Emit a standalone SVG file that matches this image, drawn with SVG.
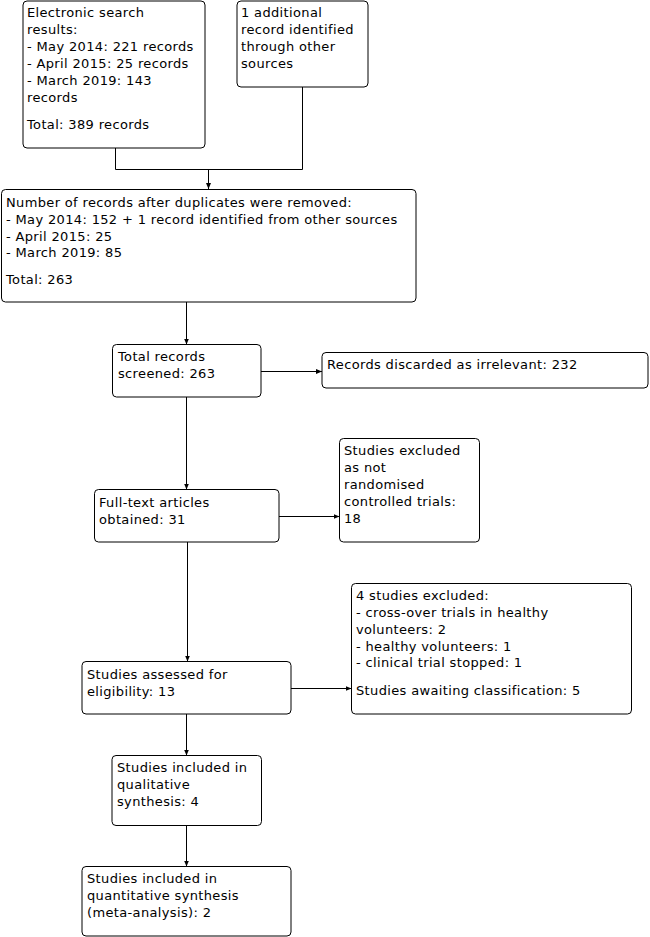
<svg xmlns="http://www.w3.org/2000/svg" width="650" height="937" viewBox="0 0 650 937">
<defs>
<style>
.box{fill:#fff;stroke:#000;stroke-width:1}
text{font-family:"DejaVu Sans",sans-serif;font-size:13px;letter-spacing:0.35px;fill:#000}
.c{fill:none;stroke:#000;stroke-width:1}
</style>
<marker id="ah" markerUnits="userSpaceOnUse" markerWidth="7" markerHeight="6" refX="6" refY="3" orient="auto">
<path d="M0,0.5 L6,3 L0,5.5 z" fill="#000"/>
</marker>
</defs>
<rect width="650" height="937" fill="#fff"/>
<g id="connectors">
<path class="c" d="M115.5,148 V169.5 H302.5 V87"/>
<path class="c" d="M208.5,169.5 V189" marker-end="url(#ah)"/>
<path class="c" d="M186.5,302 V344.5" marker-end="url(#ah)"/>
<path class="c" d="M261,371.5 H322" marker-end="url(#ah)"/>
<path class="c" d="M186.5,397 V489.5" marker-end="url(#ah)"/>
<path class="c" d="M279,516.5 H339.5" marker-end="url(#ah)"/>
<path class="c" d="M187.5,542 V661.5" marker-end="url(#ah)"/>
<path class="c" d="M291,688.5 H351.5" marker-end="url(#ah)"/>
<path class="c" d="M186.5,714 V755.5" marker-end="url(#ah)"/>
<path class="c" d="M186.5,825.5 V866.5" marker-end="url(#ah)"/>
</g>
<g id="n1">
<rect class="box" x="23" y="1" width="182" height="147" rx="4"/>
<text x="27" y="17">Electronic search</text>
<text x="27" y="34">results:</text>
<text x="27" y="51">- May 2014: 221 records</text>
<text x="27" y="68">- April 2015: 25 records</text>
<text x="27" y="85">- March 2019: 143</text>
<text x="27" y="102">records</text>
<text x="27" y="129">Total: 389 records</text>
</g>
<g id="n2">
<rect class="box" x="237" y="1" width="131" height="86" rx="4"/>
<text x="241" y="17">1 additional</text>
<text x="241" y="34">record identified</text>
<text x="241" y="51">through other</text>
<text x="241" y="68">sources</text>
</g>
<g id="n3">
<rect class="box" x="1.5" y="189.5" width="414.5" height="112.5" rx="4"/>
<text x="6" y="207">Number of records after duplicates were removed:</text>
<text x="6" y="224">- May 2014: 152 + 1 record identified from other sources</text>
<text x="6" y="241">- April 2015: 25</text>
<text x="6" y="257">- March 2019: 85</text>
<text x="6" y="284">Total: 263</text>
</g>
<g id="n4">
<rect class="box" x="112.5" y="344.5" width="148.5" height="52.5" rx="4"/>
<text x="118" y="361">Total records</text>
<text x="118" y="378">screened: 263</text>
</g>
<g id="n5">
<rect class="box" x="322" y="352.5" width="326" height="35.5" rx="4"/>
<text x="327" y="369">Records discarded as irrelevant: 232</text>
</g>
<g id="n6">
<rect class="box" x="94.5" y="489.5" width="184.5" height="52.5" rx="4"/>
<text x="99" y="507">Full-text articles</text>
<text x="99" y="524">obtained: 31</text>
</g>
<g id="n7">
<rect class="box" x="339.5" y="438.5" width="140" height="103.5" rx="4"/>
<text x="344" y="455">Studies excluded</text>
<text x="344" y="472">as not</text>
<text x="344" y="489">randomised</text>
<text x="344" y="506">controlled trials:</text>
<text x="344" y="523">18</text>
</g>
<g id="n8">
<rect class="box" x="82" y="661.5" width="209" height="52.5" rx="4"/>
<text x="87" y="679">Studies assessed for</text>
<text x="87" y="696">eligibility: 13</text>
</g>
<g id="n9">
<rect class="box" x="351.5" y="583.5" width="280" height="130.5" rx="4"/>
<text x="356" y="600">4 studies excluded:</text>
<text x="356" y="617">- cross-over trials in healthy</text>
<text x="356" y="634">volunteers: 2</text>
<text x="356" y="651">- healthy volunteers: 1</text>
<text x="356" y="667">- clinical trial stopped: 1</text>
<text x="356" y="695">Studies awaiting classification: 5</text>
</g>
<g id="n10">
<rect class="box" x="112" y="755.5" width="149.5" height="70" rx="4"/>
<text x="117" y="772">Studies included in</text>
<text x="117" y="789">qualitative</text>
<text x="117" y="806">synthesis: 4</text>
</g>
<g id="n11">
<rect class="box" x="82" y="866.5" width="209" height="69.5" rx="4"/>
<text x="87" y="883">Studies included in</text>
<text x="87" y="900">quantitative synthesis</text>
<text x="87" y="917">(meta-analysis): 2</text>
</g>
</svg>
